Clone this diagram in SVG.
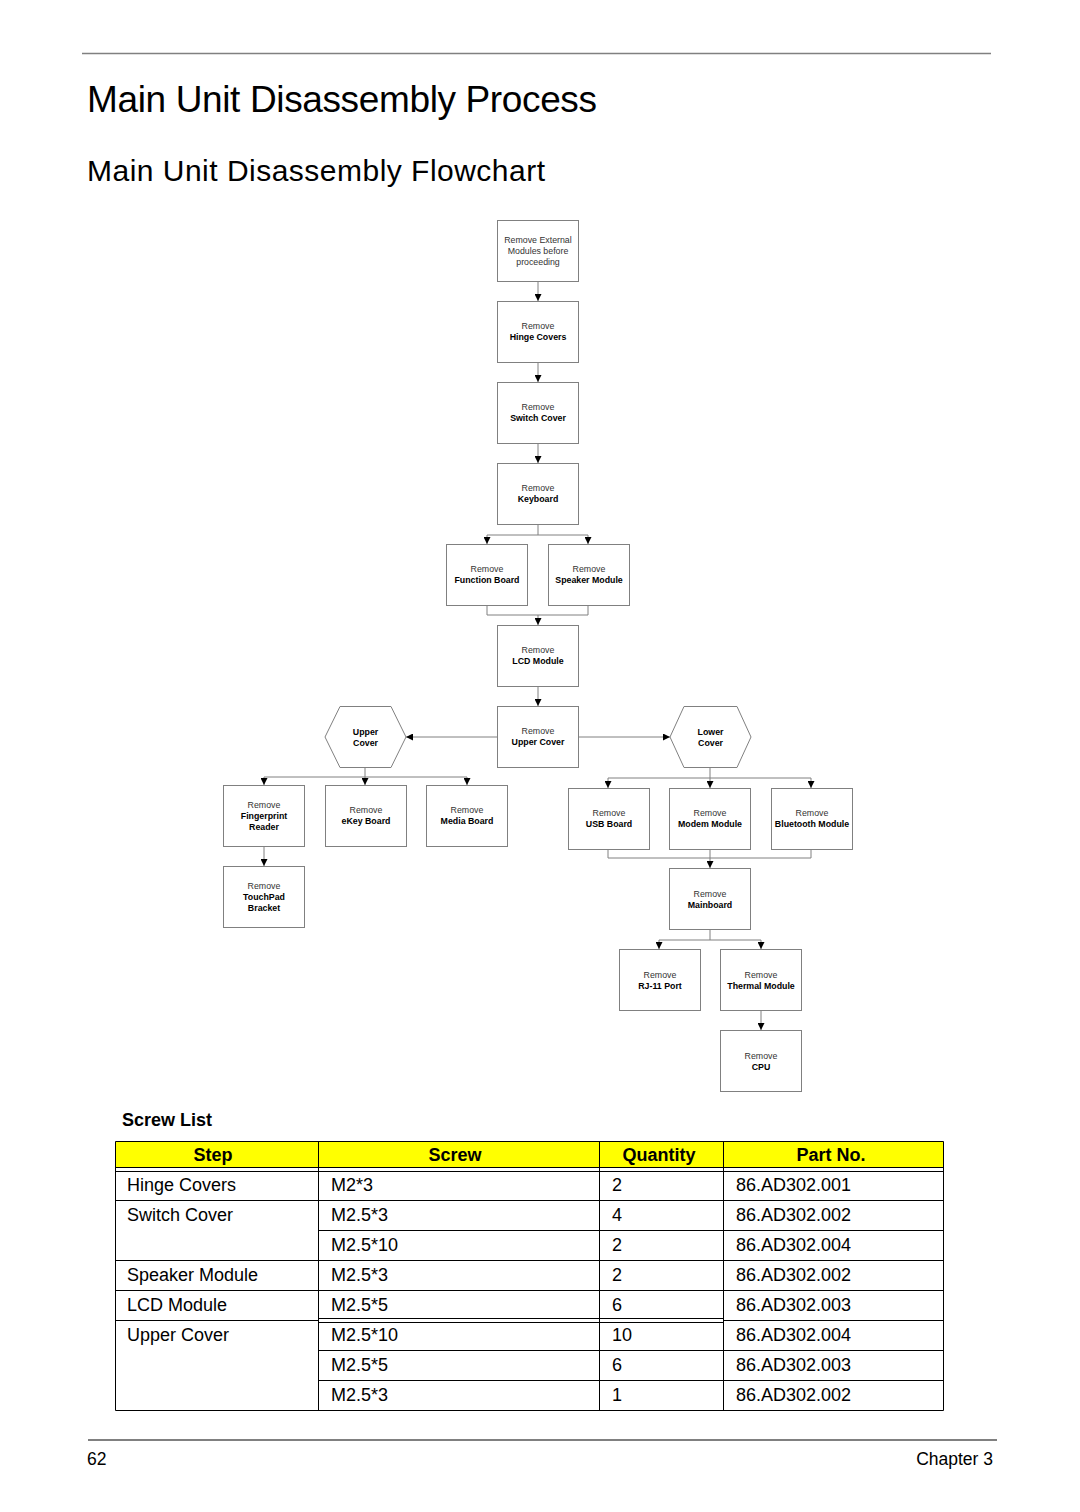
<svg xmlns="http://www.w3.org/2000/svg" width="1080" height="1512" viewBox="0 0 1080 1512">
<style>
.box{fill:#fff;stroke:#808080;stroke-width:1}
.t{font-family:"Liberation Sans",Arial,sans-serif;font-size:8.8px;text-anchor:middle;fill:#333}
.b{font-weight:bold;fill:#000}
.c{fill:none;stroke:#808080;stroke-width:1}
.ca{fill:none;stroke:#808080;stroke-width:1;marker-end:url(#ah)}
.tl{stroke:#000;stroke-width:1;fill:none}
.tx{font-family:"Liberation Sans",Arial,sans-serif;font-size:18px;fill:#000}
.th{font-family:"Liberation Sans",Arial,sans-serif;font-size:18px;font-weight:bold;text-anchor:middle;fill:#000}
.hd{font-family:"Liberation Sans",Arial,sans-serif;fill:#000}
</style>
<defs>
<marker id="ah" markerUnits="userSpaceOnUse" markerWidth="7" markerHeight="7" refX="7" refY="3.5" orient="auto">
<path d="M0,0 L7,3.5 L0,7 z" fill="#000"/>
</marker>
</defs>
<rect width="1080" height="1512" fill="#fff"/>
<line x1="82" y1="53.5" x2="991" y2="53.5" stroke="#808080" stroke-width="1.5"/>
<text class="hd" x="87" y="112" font-size="37" textLength="510" lengthAdjust="spacing">Main Unit Disassembly Process</text>
<text class="hd" x="87" y="181" font-size="30" textLength="458" lengthAdjust="spacing">Main Unit Disassembly Flowchart</text>

<g id="connectors">
<path class="ca" d="M538,281 V301"/>
<path class="ca" d="M538,362 V382"/>
<path class="ca" d="M538,443 V463"/>
<path class="c" d="M538,524 V535 M487,535 H588"/>
<path class="ca" d="M487,535 V544"/>
<path class="ca" d="M588,535 V544"/>
<path class="c" d="M487,605 V615 H588 V605"/>
<path class="ca" d="M538,615 V625"/>
<path class="ca" d="M538,686 V706"/>
<path class="ca" d="M497,737 H406"/>
<path class="ca" d="M578,737 H670"/>
<path class="c" d="M365,767 V777 M264,777 H467"/>
<path class="ca" d="M264,777 V785"/>
<path class="ca" d="M365,777 V785"/>
<path class="ca" d="M467,777 V785"/>
<path class="ca" d="M264,846 V866"/>
<path class="c" d="M710,767 V778 M608,778 H811"/>
<path class="ca" d="M608,778 V788"/>
<path class="ca" d="M710,778 V788"/>
<path class="ca" d="M811,778 V788"/>
<path class="c" d="M608,849 V858 H811 V849 M710,849 V858"/>
<path class="ca" d="M710,858 V868"/>
<path class="c" d="M710,929 V940 M659,940 H761"/>
<path class="ca" d="M659,940 V949"/>
<path class="ca" d="M761,940 V949"/>
<path class="ca" d="M761,1010 V1030"/>
</g>

<g id="n-external"><rect class="box" x="497.5" y="220.5" width="81" height="61"/>
<text class="t" x="538" y="243">Remove External</text><text class="t" x="538" y="254">Modules before</text><text class="t" x="538" y="265">proceeding</text></g>
<g id="n-hinge"><rect class="box" x="497.5" y="301.5" width="81" height="61"/>
<text class="t" x="538" y="329">Remove</text><text class="t b" x="538" y="340">Hinge Covers</text></g>
<g id="n-switch"><rect class="box" x="497.5" y="382.5" width="81" height="61"/>
<text class="t" x="538" y="410">Remove</text><text class="t b" x="538" y="421">Switch Cover</text></g>
<g id="n-keyboard"><rect class="box" x="497.5" y="463.5" width="81" height="61"/>
<text class="t" x="538" y="491">Remove</text><text class="t b" x="538" y="502">Keyboard</text></g>
<g id="n-function"><rect class="box" x="446.5" y="544.5" width="81" height="61"/>
<text class="t" x="487" y="572">Remove</text><text class="t b" x="487" y="583">Function Board</text></g>
<g id="n-speaker"><rect class="box" x="548.5" y="544.5" width="81" height="61"/>
<text class="t" x="589" y="572">Remove</text><text class="t b" x="589" y="583">Speaker Module</text></g>
<g id="n-lcd"><rect class="box" x="497.5" y="625.5" width="81" height="61"/>
<text class="t" x="538" y="653">Remove</text><text class="t b" x="538" y="664">LCD Module</text></g>
<g id="n-uppercover-remove"><rect class="box" x="497.5" y="706.5" width="81" height="61"/>
<text class="t" x="538" y="734">Remove</text><text class="t b" x="538" y="745">Upper Cover</text></g>
<g id="n-upper-hex"><polygon class="box" points="325,737 340,706.5 391,706.5 406,737 391,767.5 340,767.5"/>
<text class="t b" x="365.5" y="735">Upper</text><text class="t b" x="365.5" y="746">Cover</text></g>
<g id="n-lower-hex"><polygon class="box" points="670,737 684,706.5 737,706.5 751,737 737,767.5 684,767.5"/>
<text class="t b" x="710.5" y="735">Lower</text><text class="t b" x="710.5" y="746">Cover</text></g>
<g id="n-fingerprint"><rect class="box" x="223.5" y="785.5" width="81" height="61"/>
<text class="t" x="264" y="808">Remove</text><text class="t b" x="264" y="819">Fingerprint</text><text class="t b" x="264" y="830">Reader</text></g>
<g id="n-ekey"><rect class="box" x="325.5" y="785.5" width="81" height="61"/>
<text class="t" x="366" y="813">Remove</text><text class="t b" x="366" y="824">eKey Board</text></g>
<g id="n-media"><rect class="box" x="426.5" y="785.5" width="81" height="61"/>
<text class="t" x="467" y="813">Remove</text><text class="t b" x="467" y="824">Media Board</text></g>
<g id="n-touchpad"><rect class="box" x="223.5" y="866.5" width="81" height="61"/>
<text class="t" x="264" y="889">Remove</text><text class="t b" x="264" y="900">TouchPad</text><text class="t b" x="264" y="911">Bracket</text></g>
<g id="n-usb"><rect class="box" x="568.5" y="788.5" width="81" height="61"/>
<text class="t" x="609" y="816">Remove</text><text class="t b" x="609" y="827">USB Board</text></g>
<g id="n-modem"><rect class="box" x="669.5" y="788.5" width="81" height="61"/>
<text class="t" x="710" y="816">Remove</text><text class="t b" x="710" y="827">Modem Module</text></g>
<g id="n-bluetooth"><rect class="box" x="771.5" y="788.5" width="81" height="61"/>
<text class="t" x="812" y="816">Remove</text><text class="t b" x="812" y="827">Bluetooth Module</text></g>
<g id="n-mainboard"><rect class="box" x="669.5" y="868.5" width="81" height="61"/>
<text class="t" x="710" y="897">Remove</text><text class="t b" x="710" y="908">Mainboard</text></g>
<g id="n-rj11"><rect class="box" x="619.5" y="949.5" width="81" height="61"/>
<text class="t" x="660" y="978">Remove</text><text class="t b" x="660" y="989">RJ-11 Port</text></g>
<g id="n-thermal"><rect class="box" x="720.5" y="949.5" width="81" height="61"/>
<text class="t" x="761" y="978">Remove</text><text class="t b" x="761" y="989">Thermal Module</text></g>
<g id="n-cpu"><rect class="box" x="720.5" y="1030.5" width="81" height="61"/>
<text class="t" x="761" y="1059">Remove</text><text class="t b" x="761" y="1070">CPU</text></g>

<g id="screw-table">
<text class="hd" x="122" y="1126" font-size="18" font-weight="bold">Screw List</text>
<rect x="115.5" y="1141.5" width="828" height="26" fill="#ffff00"/>
<path class="tl" d="M115.5,1141.5 H943.5 V1410.5 H115.5 Z"/>
<path class="tl" d="M318.5,1141.5 V1410.5 M599.5,1141.5 V1410.5 M723.5,1141.5 V1410.5"/>
<path class="tl" d="M115.5,1167.5 H943.5 M115.5,1171.5 H943.5"/>
<path class="tl" d="M115.5,1200.5 H943.5 M318.5,1230.5 H943.5 M115.5,1260.5 H943.5 M115.5,1290.5 H943.5"/>
<path class="tl" d="M115.5,1320.5 H318.5 M723.5,1320.5 H943.5 M318.5,1318.5 H723.5 M318.5,1322.5 H723.5"/>
<path class="tl" d="M318.5,1350.5 H943.5 M318.5,1380.5 H943.5"/>
<text class="th" x="213" y="1161">Step</text>
<text class="th" x="455" y="1161">Screw</text>
<text class="th" x="659" y="1161">Quantity</text>
<text class="th" x="831" y="1161">Part No.</text>
<text class="tx" x="127" y="1191">Hinge Covers</text><text class="tx" x="331" y="1191">M2*3</text><text class="tx" x="612" y="1191">2</text><text class="tx" x="736" y="1191">86.AD302.001</text>
<text class="tx" x="127" y="1221">Switch Cover</text><text class="tx" x="331" y="1221">M2.5*3</text><text class="tx" x="612" y="1221">4</text><text class="tx" x="736" y="1221">86.AD302.002</text>
<text class="tx" x="331" y="1251">M2.5*10</text><text class="tx" x="612" y="1251">2</text><text class="tx" x="736" y="1251">86.AD302.004</text>
<text class="tx" x="127" y="1281">Speaker Module</text><text class="tx" x="331" y="1281">M2.5*3</text><text class="tx" x="612" y="1281">2</text><text class="tx" x="736" y="1281">86.AD302.002</text>
<text class="tx" x="127" y="1311">LCD Module</text><text class="tx" x="331" y="1311">M2.5*5</text><text class="tx" x="612" y="1311">6</text><text class="tx" x="736" y="1311">86.AD302.003</text>
<text class="tx" x="127" y="1341">Upper Cover</text><text class="tx" x="331" y="1341">M2.5*10</text><text class="tx" x="612" y="1341">10</text><text class="tx" x="736" y="1341">86.AD302.004</text>
<text class="tx" x="331" y="1371">M2.5*5</text><text class="tx" x="612" y="1371">6</text><text class="tx" x="736" y="1371">86.AD302.003</text>
<text class="tx" x="331" y="1401">M2.5*3</text><text class="tx" x="612" y="1401">1</text><text class="tx" x="736" y="1401">86.AD302.002</text>
</g>

<line x1="88" y1="1440" x2="997" y2="1440" stroke="#808080" stroke-width="2"/>
<text class="hd" x="87" y="1465" font-size="17.5">62</text>
<text class="hd" x="993" y="1465" font-size="17.5" text-anchor="end">Chapter 3</text>
</svg>
